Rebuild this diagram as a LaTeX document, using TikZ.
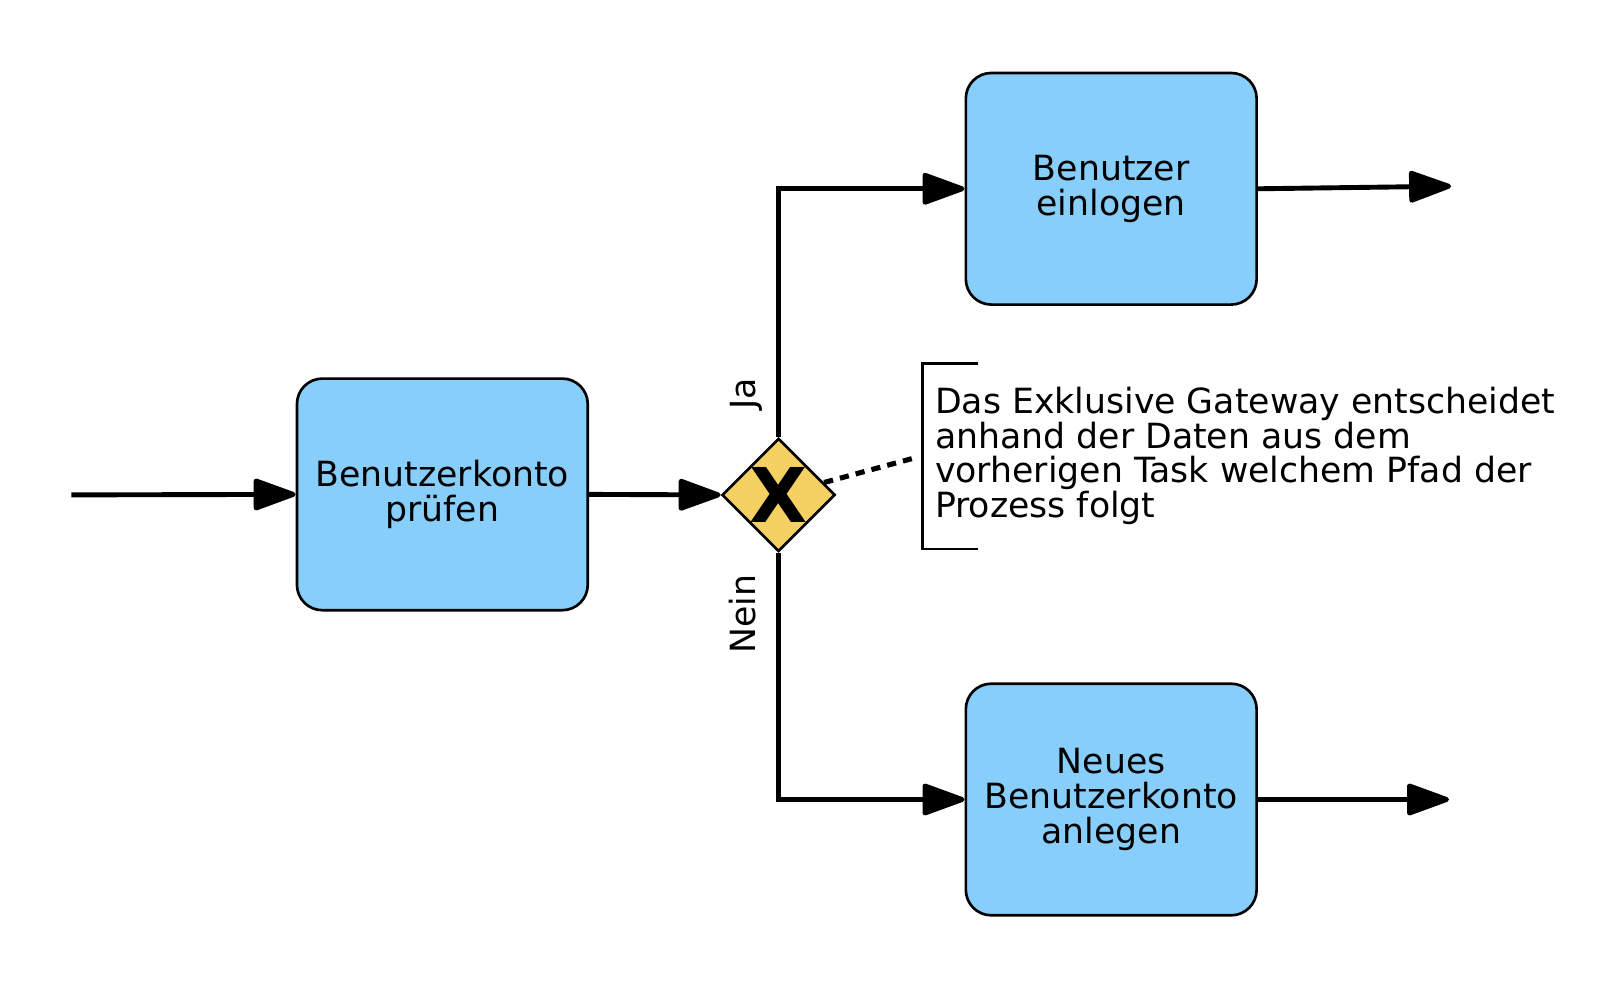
\documentclass[tikz,border=0pt]{standalone}
\usepackage{fontspec}
\setmainfont{DejaVu Sans}
\usetikzlibrary{shapes.geometric,arrows.meta}
\definecolor{taskblue}{RGB}{135,206,250}
\definecolor{gwgold}{RGB}{245,208,98}
\begin{document}
\begin{tikzpicture}[x=0.5pt,y=-0.5pt,
  task/.style={draw=black, line width=1.3pt, fill=taskblue, rounded corners=12.5pt,
    minimum width=142.5pt, minimum height=113.5pt, align=center, inner sep=0pt,
    font=\fontsize{17}{17}\selectfont},
  gateway/.style={draw=black, line width=1.3pt, fill=gwgold, shape=diamond, aspect=1,
    minimum width=55.5pt, minimum height=55.5pt, inner sep=0pt},
  flow/.style={line width=2.4pt, -{Triangle[length=23pt,width=16pt,round]}},
  assoc/.style={line width=2.5pt, dash pattern=on 4.5pt off 3.5pt},
  lbl/.style={font=\fontsize{17}{17}\selectfont, rotate=90, inner sep=0pt},
  note/.style={font=\fontsize{17}{17}\selectfont, align=left, inner sep=0pt, anchor=north west}
]
\useasboundingbox (0,0) rectangle (1568,969.2);

\node[task] (t1) at (433.5,484.5) {Benutzerkonto\\prüfen};
\node[task] (t2) at (1089,185) {Benutzer\\einlogen};
\node[task] (t3) at (1089,783.5) {Neues\\Benutzerkonto\\anlegen};
\node[gateway] (gw) at (763,485) {};
\node[font=\fontsize{37}{37}\bfseries\selectfont, inner sep=0pt] (gwx) at (gw.center) {X};

\coordinate (start) at (70,485);
\coordinate (end2) at (1422,182.5);
\coordinate (end3) at (1420,783.5);
\coordinate (assocend) at (899,448);

\draw[flow] (start) -- (t1.west);
\draw[flow] (t1.east) -- (gw.west);
\draw[flow] (gw.north) |- (t2.west);
\draw[flow] (gw.south) |- (t3.west);
\draw[flow] (t2.east) -- (end2);
\draw[flow] (t3.east) -- (end3);

\node[lbl] (ja) at (731,386) {Ja};
\node[lbl] (nein) at (728,602) {Nein};

\draw[assoc] (gw) -- (assocend);

\coordinate (bt) at (958,356);
\coordinate (bb) at (958,538);
\draw[line width=1.3pt] (bt) -- (904,356) -- (904,538) -- (bb);
\node[note] (txt) at (916,379) {Das Exklusive Gateway entscheidet\\anhand der Daten aus dem\\vorherigen Task welchem Pfad der\\Prozess folgt};
\end{tikzpicture}
\end{document}
